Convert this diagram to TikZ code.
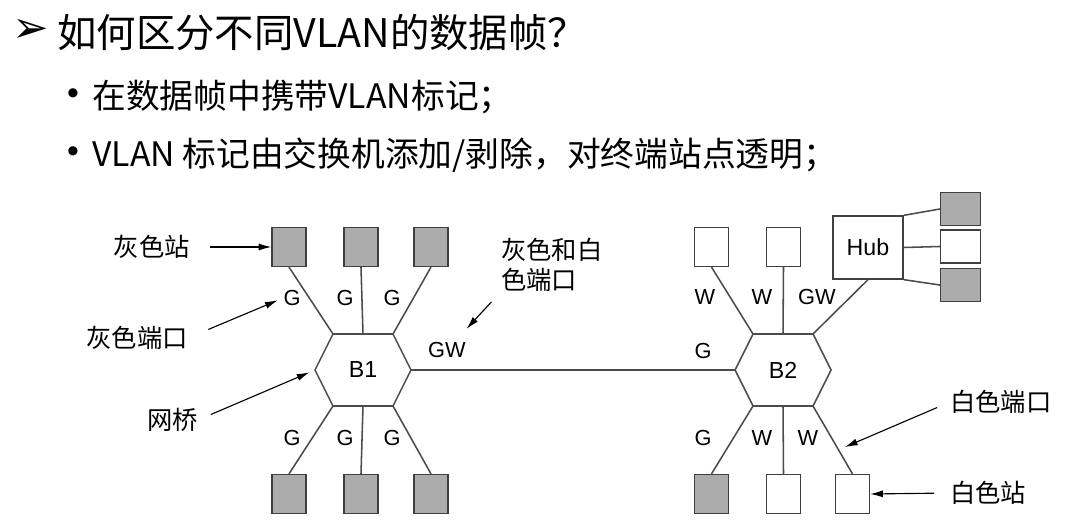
\documentclass[tikz,border=0pt]{standalone}
\usepackage{fontspec}
\setmainfont{Liberation Sans}
\newfontfamily\cjk{Noto Sans CJK SC}
\newfontfamily\symfont{DejaVu Sans}
\usetikzlibrary{arrows.meta,positioning}

\begin{document}
\begin{tikzpicture}
    [
        x = 0.025cm, y = -0.025cm,
        > = {Latex[length=9pt,width=5pt]},
        station/.style = {
            draw=black!75, fill=gray!65, line width=0.9pt,
            minimum width=0.85cm, minimum height=0.975cm, inner sep=0pt},
        wstation/.style = {station, fill=white},
        hubstation/.style = {station, minimum width=1cm, minimum height=0.825cm},
        port/.style = {font=\fontsize{15.5}{15.5}\selectfont, inner sep=0pt},
        bridgename/.style = {font=\fontsize{16.5}{16.5}\selectfont, inner sep=0pt},
        link/.style = {draw=black!70, line width=1.1pt},
        note/.style = {font=\cjk\fontsize{18}{21}\selectfont, inner sep=0pt, align=left},
        pointer/.style = {->, line width=0.8pt},
        headline/.style = {font=\cjk\fontsize{28}{30}\selectfont, inner sep=0pt, anchor=west},
        item/.style = {font=\cjk\fontsize{24}{26}\selectfont, inner sep=0pt, anchor=west},
        dot/.style = {font=\fontsize{24}{24}\selectfont, inner sep=0pt}
    ]
    \useasboundingbox (0,0) rectangle (1084,530);

    % heading and bullets
    \node [font=\symfont\fontsize{31}{31}\selectfont, inner sep=0pt] (mark) at (31,31) {➢};
    \node [headline] (title) at (57,33) {如何区分不同VLAN的数据帧？};
    \node [dot] (dot1) at (73,97) {•};
    \node [item] (item1) at (92,97) {在数据帧中携带VLAN标记；};
    \node [dot] (dot2) at (73,155) {•};
    \node [item] (item2) at (92,155) {VLAN 标记由交换机添加/剥除，对终端站点透明；};

    % bridge B1
    \node [bridgename] (B1) at (363,370) {B1};
    \coordinate (B1-l) at (315,370);
    \coordinate (B1-nw) at (333,334);
    \coordinate (B1-n) at (363,334);
    \coordinate (B1-ne) at (393,334);
    \coordinate (B1-r) at (411,370);
    \coordinate (B1-se) at (393,406);
    \coordinate (B1-s) at (363,406);
    \coordinate (B1-sw) at (333,406);
    \draw [link] (B1-l) -- (B1-nw) -- (B1-ne) -- (B1-r) -- (B1-se) -- (B1-sw) -- cycle;

    \node [station] (g1) at (289,247) {};
    \node [station] (g2) at (361,247) {};
    \node [station] (g3) at (431,247) {};
    \node [station] (g4) at (289,494) {};
    \node [station] (g5) at (361,494) {};
    \node [station] (g6) at (431,494) {};
    \draw [link] (g1.south) -- (B1-nw);
    \draw [link] (g2.south) -- (B1-n);
    \draw [link] (g3.south) -- (B1-ne);
    \draw [link] (g4.north) -- (B1-sw);
    \draw [link] (g5.north) -- (B1-s);
    \draw [link] (g6.north) -- (B1-se);
    \node [port] (p1) at (292,298) {G};
    \node [port] (p2) at (345,298) {G};
    \node [port] (p3) at (392,298) {G};
    \node [port] (p4) at (292,438) {G};
    \node [port] (p5) at (345,438) {G};
    \node [port] (p6) at (392,438) {G};
    \node [port] (p7) at (447,350) {GW};

    % bridge B2
    \node [bridgename] (B2) at (783,370) {B2};
    \coordinate (B2-l) at (735,370);
    \coordinate (B2-nw) at (753,334);
    \coordinate (B2-n) at (783,334);
    \coordinate (B2-ne) at (813,334);
    \coordinate (B2-r) at (831,370);
    \coordinate (B2-se) at (813,406);
    \coordinate (B2-s) at (783,406);
    \coordinate (B2-sw) at (753,406);
    \draw [link] (B2-l) -- (B2-nw) -- (B2-ne) -- (B2-r) -- (B2-se) -- (B2-sw) -- cycle;
    \draw [link] (B1-r) -- (B2-l);

    \node [wstation] (w1) at (711.5,247) {};
    \node [wstation] (w2) at (783.5,247) {};
    \node [draw=black!75, line width=0.9pt, minimum width=1.75cm, minimum height=1.575cm,
        inner sep=0pt, font=\fontsize{16.5}{16.5}\selectfont] (hub) at (868,247.5) {Hub};
    \node [hubstation] (h1) at (960.5,209) {};
    \node [hubstation, fill=white] (h2) at (960.5,246.5) {};
    \node [hubstation] (h3) at (960.5,285) {};
    \draw [link] (hub.north east) -- (h1.west);
    \draw [link] (hub.east) -- (h2.west);
    \draw [link] (hub.south east) -- (h3.west);
    \node [station] (w3) at (711.5,494) {};
    \node [wstation] (w4) at (783.5,494) {};
    \node [wstation] (w5) at (852.5,494) {};
    \draw [link] (w1.south) -- (B2-nw);
    \draw [link] (w2.south) -- (B2-n);
    \draw [link] (hub.south) -- (B2-ne);
    \draw [link] (w3.north) -- (B2-sw);
    \draw [link] (w4.north) -- (B2-s);
    \draw [link] (w5.north) -- (B2-se);
    \node [port] (q1) at (705,297) {W};
    \node [port] (q2) at (762,297) {W};
    \node [port] (q3) at (817,297) {GW};
    \node [port] (q4) at (703,351) {G};
    \node [port] (q5) at (703,438) {G};
    \node [port] (q6) at (762,438) {W};
    \node [port] (q7) at (808,438) {W};

    % notes
    \node [note, anchor=east] (graystation) at (190,247) {灰色站};
    \node [note, anchor=east] (grayport) at (188,338) {灰色端口};
    \node [note, anchor=east] (bridge) at (198,420) {网桥};
    \node [note, anchor=north west] (bothport) at (501,238) {灰色和白\\色端口};
    \node [note, anchor=west] (whiteport) at (950,402) {白色端口};
    \node [note, anchor=west] (whitestation) at (950,493) {白色站};
    \coordinate (whitetip) at (845,447);
    \draw [pointer, shorten <=0.5cm] (graystation.east) -- (g1.west);
    \draw [pointer, shorten <=0.55cm, shorten >=0.15cm] (grayport.east) -- (p1.west);
    \draw [pointer, shorten <=0.35cm, shorten >=0.15cm] (bridge.east) -- (B1-l);
    \draw [pointer, shorten <=0.35cm, shorten >=0.45cm] (bothport.south west) -- (p7);
    \draw [pointer, shorten <=0.35cm] (whiteport.west) -- (whitetip);
    \draw [pointer, shorten <=0.4cm] (whitestation.west) -- (w5.east);
\end{tikzpicture}
\end{document}
